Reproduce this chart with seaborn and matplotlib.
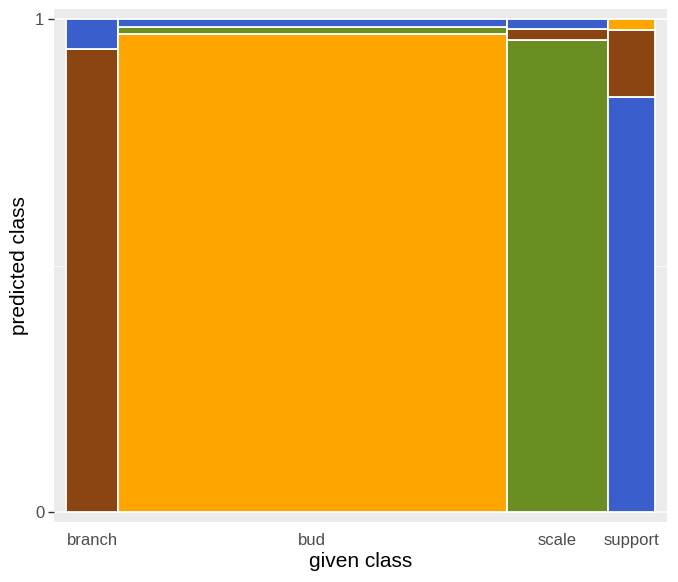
import numpy as np
import matplotlib
matplotlib.use("Agg")
import matplotlib.pyplot as plt
import seaborn as sns

# given class (columns) and their share of all samples
given_classes = ["branch", "bud", "scale", "support"]
given_share = [0.0873, 0.6615, 0.1712, 0.0800]

# predicted class proportions inside each given class, bottom to top
pred_branch = ["branch", "support"]
frac_branch = [0.939, 0.061]
pred_bud = ["bud", "scale", "support"]
frac_bud = [0.969, 0.015, 0.016]
pred_scale = ["scale", "branch", "support"]
frac_scale = [0.957, 0.022, 0.021]
pred_support = ["support", "branch", "bud"]
frac_support = [0.841, 0.137, 0.022]

class_colors = {
    "branch": "#8B4513",
    "bud": "#FFA500",
    "scale": "#6B8E23",
    "support": "#3A5FCD",
}

stacks = [
    (pred_branch, frac_branch),
    (pred_bud, frac_bud),
    (pred_scale, frac_scale),
    (pred_support, frac_support),
]

sns.set_theme(style="darkgrid", rc={
    "axes.facecolor": "#EBEBEB",
    "grid.color": "white",
    "axes.edgecolor": "none",
})
plt.rcParams["font.family"] = ["Liberation Sans", "DejaVu Sans"]

fig = plt.figure(figsize=(6.78, 5.82), dpi=100)
ax = fig.add_axes([54 / 678, 60 / 582, 613 / 678, 513 / 582])

# mosaic tiles: column width = share of given class, height = share of predicted class
lefts = np.concatenate([[0], np.cumsum(given_share)[:-1]])
for left, width, (preds, fracs) in zip(lefts, given_share, stacks):
    bottom = 0.0
    for p, f in zip(preds, fracs):
        ax.bar(left, f, width=width, bottom=bottom, align="edge",
               color=class_colors[p], edgecolor="white", linewidth=1.3, zorder=3)
        bottom += f

centers = lefts + np.array(given_share) / 2
ax.set_xlim(-0.021, 1.021)
ax.set_ylim(-0.0203, 1.0203)
ax.set_xticks(centers)
ax.set_xticklabels(given_classes)
ax.set_yticks([0, 1])
ax.set_yticklabels(["0", "1"])
ax.set_yticks([0.5], minor=True)
ax.grid(False, axis="x")
ax.grid(True, axis="y", which="major", color="white", linewidth=1.2)
ax.grid(True, axis="y", which="minor", color="white", linewidth=0.6)

ax.tick_params(axis="x", length=0, pad=8, labelsize=12, labelcolor="#4D4D4D")
ax.tick_params(axis="y", which="major", length=4, width=1, color="#333333",
               pad=3, labelsize=12, labelcolor="#4D4D4D", left=True)
ax.tick_params(axis="y", which="minor", length=0)

ax.set_xlabel("given class", fontsize=15, color="black", labelpad=3)
ax.set_ylabel("predicted class", fontsize=15, color="black", labelpad=4)

fig.savefig("out.png", dpi=100)
